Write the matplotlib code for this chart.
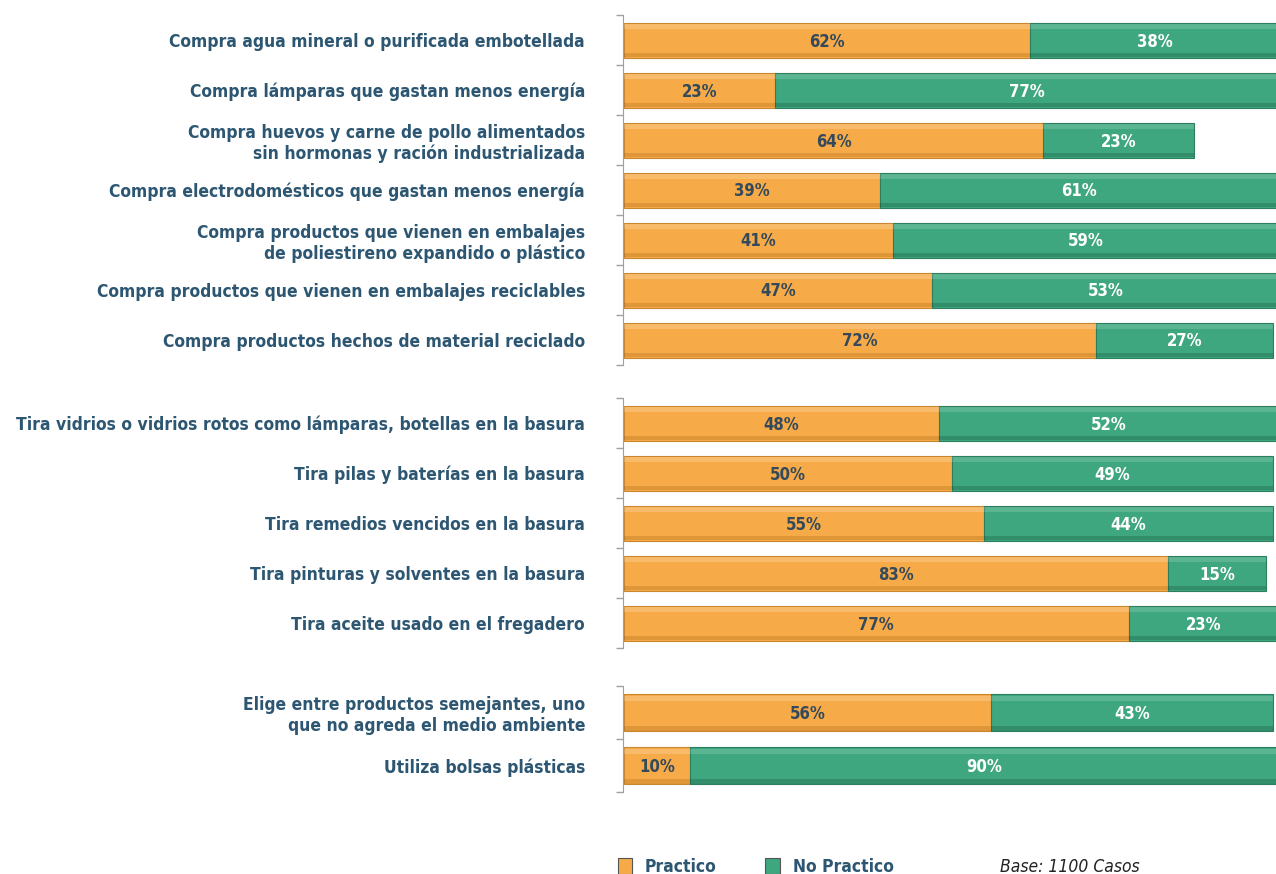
import numpy as np
import matplotlib.pyplot as plt
from matplotlib.patches import Rectangle
from matplotlib import font_manager

# datos por grupo
grupo1 = ['Compra agua mineral o purificada embotellada',
          'Compra lámparas que gastan menos energía',
          'Compra huevos y carne de pollo alimentados\nsin hormonas y ración industrializada',
          'Compra electrodomésticos que gastan menos energía',
          'Compra productos que vienen en embalajes\nde poliestireno expandido o plástico',
          'Compra productos que vienen en embalajes reciclables',
          'Compra productos hechos de material reciclado']
practico1 = [62, 23, 64, 39, 41, 47, 72]
no_practico1 = [38, 77, 23, 61, 59, 53, 27]

grupo2 = ['Tira vidrios o vidrios rotos como lámparas, botellas en la basura',
          'Tira pilas y baterías en la basura',
          'Tira remedios vencidos en la basura',
          'Tira pinturas y solventes en la basura',
          'Tira aceite usado en el fregadero']
practico2 = [48, 50, 55, 83, 77]
no_practico2 = [52, 49, 44, 15, 23]

grupo3 = ['Elige entre productos semejantes, uno\nque no agreda el medio ambiente',
          'Utiliza bolsas plásticas']
practico3 = [56, 10]
no_practico3 = [43, 90]

naranja = '#F7AB48'
verde = '#3FA77F'
azul = '#2C5671'

# buscar una fuente estrecha instalada
nombres = set(f.name for f in font_manager.fontManager.ttflist)
if 'Liberation Sans Narrow' in nombres:
    fuente = dict(family='Liberation Sans Narrow')
else:
    fuente = dict(family='DejaVu Sans', stretch='condensed')

fig = plt.figure(figsize=(12.76, 8.74), dpi=100)

# posiciones de los ejes en pixeles (arriba, abajo)
cajas = [(15, 365), (398, 648), (686, 792)]
grupos = [(grupo1, practico1, no_practico1),
          (grupo2, practico2, no_practico2),
          (grupo3, practico3, no_practico3)]

for (top, bottom), (cats, p, n) in zip(cajas, grupos):
    ax = fig.add_axes([624 / 1276, 1 - bottom / 874, 1 - 624 / 1276, (bottom - top) / 874])
    # primero los bordes (set_position reinicia los ticks)
    for s in ['top', 'right', 'bottom']:
        ax.spines[s].set_visible(False)
    ax.spines['left'].set_color('#A0A0A0')
    ax.spines['left'].set_position(('outward', 1))

    y = np.arange(len(cats))
    p = np.array(p)
    n = np.array(n)
    ax.barh(y, p, height=0.7, color=naranja, edgecolor='#C8862F', linewidth=0.8)
    ax.barh(y, n, left=p, height=0.7, color=verde, edgecolor='#2C7E5F', linewidth=0.8)
    # brillo superior y sombra inferior
    ax.barh(y - 0.27, p, height=0.1, color='white', alpha=0.2, linewidth=0)
    ax.barh(y - 0.27, n, left=p, height=0.1, color='white', alpha=0.15, linewidth=0)
    ax.barh(y + 0.3, p, height=0.08, color='#9A5A10', alpha=0.25, linewidth=0)
    ax.barh(y + 0.3, n, left=p, height=0.08, color='#0E4030', alpha=0.25, linewidth=0)
    for i in range(len(cats)):
        ax.text(p[i] / 2, y[i] + 0.03, f'{p[i]}%', ha='center', va='center',
                fontsize=12, fontweight='bold', color='#34495A', **fuente)
        ax.text(p[i] + n[i] / 2, y[i] + 0.03, f'{n[i]}%', ha='center', va='center',
                fontsize=12, fontweight='bold', color='white', **fuente)
    ax.set_xlim(0, 99.5)
    ax.set_ylim(len(cats) - 0.5, -0.5)
    ax.set_xticks([])
    ax.set_yticks(y)
    ax.set_yticks(np.arange(len(cats) + 1) - 0.5, minor=True)
    ax.tick_params(axis='y', which='major', length=0, pad=27)
    ax.tick_params(axis='y', which='minor', length=5, color='#A0A0A0', width=1)
    ax.set_yticklabels(cats, fontsize=12.5, fontweight='bold', color=azul, **fuente)

# leyenda inferior
fig.patches.append(Rectangle((618 / 1276, 0), 14 / 1276, 16 / 874,
                             transform=fig.transFigure, facecolor=naranja, edgecolor='#555555', linewidth=0.8))
fig.patches.append(Rectangle((765 / 1276, 0), 15 / 1276, 16 / 874,
                             transform=fig.transFigure, facecolor=verde, edgecolor='#555555', linewidth=0.8))
fig.text(645 / 1276, 1 - 867 / 874, 'Practico', fontsize=12.5, fontweight='bold', color=azul,
         va='center', **fuente)
fig.text(793 / 1276, 1 - 867 / 874, 'No Practico', fontsize=12.5, fontweight='bold', color=azul,
         va='center', **fuente)
fig.text(1000 / 1276, 1 - 867 / 874, 'Base: 1100 Casos', fontsize=12.5, style='italic', color='#222222',
         va='center', **fuente)

fig.savefig('out.png', dpi=100)
